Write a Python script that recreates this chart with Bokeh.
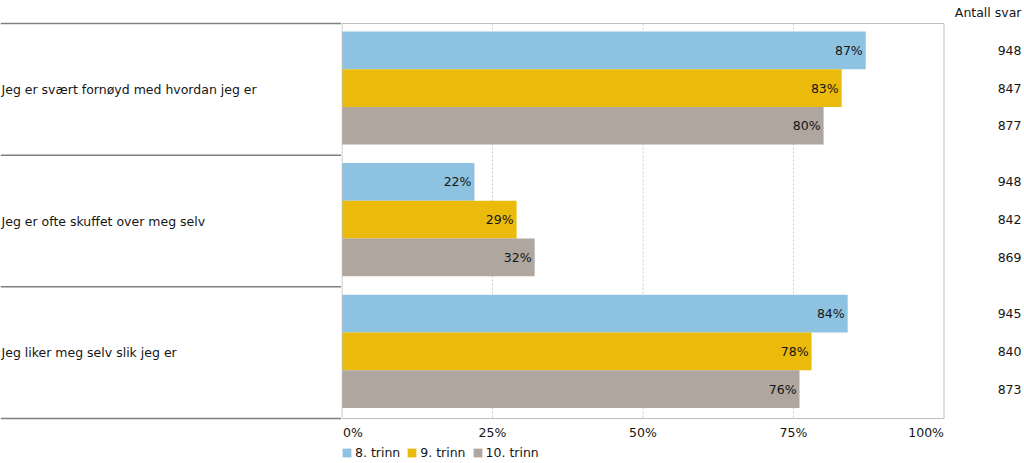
from bokeh.plotting import figure
from bokeh.layouts import row
from bokeh.models import Range1d, Label, Legend, LegendItem, ColumnDataSource
from bokeh.core.properties import value
from bokeh.embed import file_html
from bokeh.resources import INLINE

# ---- data ----
categories = ["Jeg er svært fornøyd med hvordan jeg er",
              "Jeg er ofte skuffet over meg selv",
              "Jeg liker meg selv slik jeg er"]
series_names = ["8. trinn", "9. trinn", "10. trinn"]
trinn8 = [87, 22, 84]
trinn9 = [83, 29, 78]
trinn10 = [80, 32, 76]
antall8 = [948, 948, 945]
antall9 = [847, 842, 840]
antall10 = [877, 869, 873]
tick_values = [0, 25, 50, 75, 100]
tick_labels = ["0%", "25%", "50%", "75%", "100%"]
grid_values = [25, 50, 75]
count_header = "Antall svar"

# ---- style / layout ----
FONTNAME = "DejaVu Sans"
FONT = value(FONTNAME)
FS = "12.5px"
TXT = "#151515"
colors = ["#8DC3E0", "#EBBB0B", "#AEA69F"]

H = 463
Y0PX = 23          # pixel row of category-band top
PX_PER_CAT = 131.67
yr = Range1d((H - Y0PX) / PX_PER_CAT, -Y0PX / PX_PER_CAT)
bar_h = 0.2865
offsets = [-bar_h, 0.0, bar_h]
ncat = len(categories)
centers = [i + 0.49 for i in range(ncat)]
label_centers = [i + 0.5 for i in range(ncat)]

LW, CW = 341, 604
RW = 1024 - LW - CW
PX_PER_PCT = 6.02
x_start = -0.5 / PX_PER_PCT
x_end = x_start + CW / PX_PER_PCT


def base_fig(width, x_range):
    f = figure(width=width, height=H, x_range=x_range, y_range=yr,
               output_backend="svg", toolbar_location=None,
               x_axis_location=None, y_axis_location=None,
               min_border_left=0, min_border_right=0,
               min_border_top=0, min_border_bottom=0)
    f.outline_line_color = None
    f.xgrid.visible = False
    f.ygrid.visible = False
    return f


# ---- left: category labels in boxes ----
left = base_fig(LW, Range1d(0, LW))
bounds = list(range(ncat + 1))
left.segment(x0=[0] * len(bounds), x1=[LW] * len(bounds), y0=bounds, y1=bounds,
             line_color="#808080", line_width=1.5)
left.text(x=[1] * ncat, y=label_centers, text=categories, text_font=FONT,
          text_font_size=FS, text_color=TXT, text_align="left", text_baseline="middle")

# ---- center: bars ----
p = base_fig(CW, Range1d(x_start, x_end))
# dotted grid lines
p.segment(x0=grid_values, x1=grid_values, y0=[0] * len(grid_values),
          y1=[ncat] * len(grid_values), line_color="#cccccc", line_dash="2 2", line_width=1)

series = [trinn8, trinn9, trinn10]
items = []
for k, (vals, col, name) in enumerate(zip(series, colors, series_names)):
    ys = [c + offsets[k] for c in centers]
    src = ColumnDataSource(dict(y=ys, v=vals, lab=[f"{v}%" for v in vals]))
    r = p.hbar(y="y", left=0, right="v", height=bar_h, source=src,
               fill_color=col, line_color=None)
    p.text(x="v", y="y", text="lab", source=src, x_offset=-3, text_align="right",
           text_baseline="middle", text_font=FONT, text_font_size=FS, text_color=TXT)
    items.append(LegendItem(label=name, renderers=[r]))

# plot-area outline
p.quad(left=[tick_values[0]], right=[tick_values[-1]], top=[0], bottom=[ncat],
       fill_color=None, line_color="#bdbdbd", line_width=1)

for tv, tl in zip(tick_values, tick_labels):
    align = "left" if tv == tick_values[0] else ("right" if tv == tick_values[-1] else "center")
    p.add_layout(Label(x=tv, x_units="data", y=H - 432, y_units="screen", text=tl,
                       text_align=align, text_baseline="middle", text_font=FONTNAME,
                       text_font_size=FS, text_color=TXT,
                       x_offset=1 if align == "left" else 0))

legend = Legend(items=items, orientation="horizontal", location=(0, 3),
                padding=0, margin=0, spacing=6, label_standoff=3,
                glyph_width=11, glyph_height=11, label_height=13,
                label_text_font=FONTNAME, label_text_font_size=FS, label_text_color=TXT,
                border_line_color=None, background_fill_alpha=0)
p.add_layout(legend, "center")

# ---- right: counts ----
right = base_fig(RW, Range1d(0, RW))
counts = [antall8, antall9, antall10]
for k, cnt in enumerate(counts):
    ys = [c + offsets[k] for c in centers]
    right.text(x=[RW - 3] * ncat, y=ys, text=[str(c) for c in cnt], text_font=FONT,
               text_font_size=FS, text_color=TXT, text_align="right", text_baseline="middle")
right.add_layout(Label(x=RW - 3, y=H - 12, x_units="screen", y_units="screen",
                       text=count_header, text_align="right", text_baseline="middle",
                       text_font=FONTNAME, text_font_size=FS, text_color=TXT))

layout = row(left, p, right)
open("out.html", "w").write(file_html(layout, INLINE))
